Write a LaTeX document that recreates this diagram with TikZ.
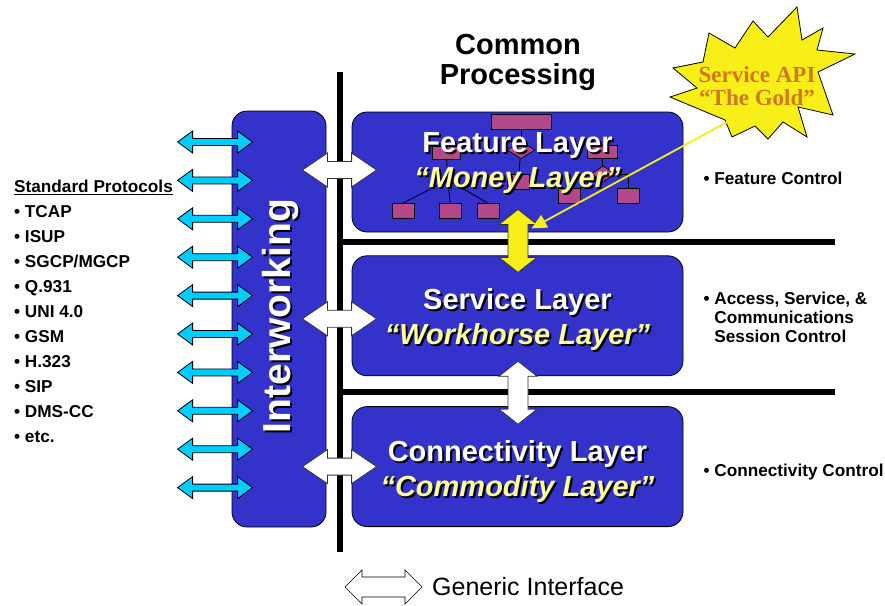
\documentclass[tikz,border=0pt]{standalone}
\usepackage{fontspec}
\setmainfont{Liberation Sans}
\newfontfamily\apifont{Liberation Serif}
\usepackage{xcolor}
\definecolor{layerblue}{RGB}{51,51,204}
\definecolor{moneyyellow}{RGB}{255,255,153}
\definecolor{treemagenta}{RGB}{178,72,138}
\definecolor{protocyan}{RGB}{0,204,255}
\definecolor{goldyellow}{RGB}{248,238,24}
\definecolor{apiorange}{RGB}{210,120,30}
\usepackage{tikz}
\usetikzlibrary{calc,positioning,arrows.meta,shapes.geometric}

% text with a black drop shadow
\newcommand{\shadowed}[2][2pt]{\leavevmode\rlap{\kern#1\raisebox{-2pt}{\color{black}#2}}#2}
% fat two-headed arrows: style, end, end, half shaft, half head, head length
\newcommand{\fatharrow}[6]{%
  \path[#1] let \p1=(#2), \p2=(#3) in
    (\x1,\y1) -- (\x1+#6,\y1+#5) -- (\x1+#6,\y1+#4) -- (\x2-#6,\y1+#4)
    -- (\x2-#6,\y1+#5) -- (\x2,\y1) -- (\x2-#6,\y1-#5) -- (\x2-#6,\y1-#4)
    -- (\x1+#6,\y1-#4) -- (\x1+#6,\y1-#5) -- cycle;}
\newcommand{\fatvarrow}[6]{%
  \path[#1] let \p1=(#2), \p2=(#3) in
    (\x1,\y1) -- (\x1+#5,\y1-#6) -- (\x1+#4,\y1-#6) -- (\x1+#4,\y2+#6)
    -- (\x1+#5,\y2+#6) -- (\x1,\y2) -- (\x1-#5,\y2+#6) -- (\x1-#4,\y2+#6)
    -- (\x1-#4,\y1-#6) -- (\x1-#5,\y1-#6) -- cycle;}

\begin{document}
\begin{tikzpicture}[x=1pt,y=-1pt,
    layerbox/.style={rectangle,rounded corners=15pt,draw=black,line width=0.8pt,
                     fill=layerblue,minimum width=331pt,minimum height=120pt},
    layertext/.style={text=white,align=center,inner sep=0pt,
                      font=\fontsize{29}{35}\selectfont\bfseries},
    treebox/.style={rectangle,draw=black,line width=0.7pt,fill=treemagenta,
                    minimum width=22pt,minimum height=15pt,inner sep=0pt},
    treedia/.style={diamond,draw=black,line width=0.7pt,fill=treemagenta,
                    minimum width=28pt,minimum height=17pt,inner sep=0pt},
    treeline/.style={draw=black,line width=0.8pt},
    spine/.style={draw=black,line width=5.5pt},
    whitearrow/.style={draw=black!80,line width=0.8pt,fill=white},
    protoarrow/.style={draw=black,line width=0.8pt,fill=protocyan},
    goldarrow/.style={draw=black!80,line width=0.8pt,fill=goldyellow},
    legendarrow/.style={draw=black,line width=0.6pt,fill=white},
    apiline/.style={draw=goldyellow,line width=1.8pt,-{Triangle[length=15pt,width=14pt]}},
    sidetext/.style={anchor=west,align=left,inner sep=0pt,
                     font=\fontsize{17.2}{19}\selectfont\bfseries},
  ]
  \useasboundingbox (0,0) rectangle (885,605);

  % backbone lines
  \draw[spine] (340,72) -- (340,552);
  \draw[spine] (340,242) -- (835,242);
  \draw[spine] (340,392) -- (835,392);

  % boxes
  \node[rectangle,rounded corners=15pt,draw=black,line width=0.8pt,fill=layerblue,
        minimum width=94pt,minimum height=416pt] (iw) at (279,319) {};
  \node[layerbox] (feat) at (517.5,172) {};
  \node[layerbox,below=23pt of feat] (serv) {};
  \node[layerbox,below=30pt of serv] (conn) {};

  % feature tree
  \node[treebox,minimum width=60pt] (fTop) at (521,122) {};
  \node[treedia] (fDia) at (521,150) {};
  \node[treebox] (fMid) at (518,182) {};
  \node[treebox,minimum width=28pt,minimum height=13pt] (fLeft) at (446,153) {};
  \node[treebox] (fB1) at (403,211) {};
  \node[treebox] (fB2) at (450,211) {};
  \node[treebox] (fB3) at (488,211) {};
  \node[treebox,minimum width=30pt,minimum height=13pt] (fRight) at (602,152) {};
  \node[treedia,minimum width=24pt,minimum height=16pt] (fRDia) at (603,174) {};
  \node[treebox] (fR1) at (569,196) {};
  \node[treebox] (fR2) at (628,196) {};
  \coordinate (fHub) at (448,180);
  \draw[treeline] (fTop) -- (fDia);
  \draw[treeline] (fDia) -- (fMid);
  \draw[treeline] (fLeft) -- (fHub);
  \draw[treeline] (fHub) -- (fB1.north);
  \draw[treeline] (fHub) -- (fB2.north);
  \draw[treeline] (fHub) -- (fB3.north);
  \draw[treeline] (fRight) -- (fRDia);
  \draw[treeline] (fRDia) -- (fR1.north east);
  \draw[treeline] (fRDia.east) -| (fR2.north);

  % layer titles
  \node[layertext] (featT) at ([yshift=8pt]feat.center)
       {\shadowed{Feature Layer}\\{\color{moneyyellow}\shadowed{\itshape “Money Layer”}}};
  \node[layertext] (servT) at ([yshift=-5pt]serv.center)
       {\shadowed{Service Layer}\\{\color{moneyyellow}\shadowed{\itshape “Workhorse Layer”}}};
  \node[layertext] (connT) at ([yshift=-6pt]conn.center)
       {\shadowed{Connectivity Layer}\\{\color{moneyyellow}\shadowed{\itshape “Commodity Layer”}}};
  \node[rotate=90,text=white,inner sep=0pt,font=\fontsize{39}{39}\selectfont\bfseries]
       (iwT) at ([xshift=2pt,yshift=3pt]iw.center) {\shadowed[-2pt]{Interworking}};

  % generic interfaces
  \fatharrow{whitearrow}{$(iw.east |- feat.west)+(-24,-2)$}{$(feat.west)+(25,-2)$}{8.5pt}{17pt}{25pt}
  \fatharrow{whitearrow}{$(iw.east |- serv.west)+(-24,3)$}{$(serv.west)+(25,3)$}{8.5pt}{17pt}{25pt}
  \fatharrow{whitearrow}{$(iw.east |- conn.west)+(-24,0)$}{$(conn.west)+(25,0)$}{8.5pt}{17pt}{25pt}
  \fatvarrow{goldarrow}{$(feat.south)+(0.5,-23)$}{$(serv.north)+(0.5,17)$}{10pt}{19pt}{15pt}
  \fatvarrow{whitearrow}{$(serv.south)+(0.5,-15)$}{$(conn.north)+(0.5,18)$}{10pt}{19pt}{15pt}

  % protocol arrows
  \foreach \i in {0,...,9}{
    \pgfmathsetmacro{\yy}{142+38.4*\i}
    \fatharrow{protoarrow}{$(iw.west |- 0,\yy)+(-54,0)$}{$(iw.west |- 0,\yy)+(21,0)$}{3.5pt}{11pt}{15pt}
  }

  % service API burst
  \draw[line width=0.8pt,fill=goldyellow] (709,33) -- (735,48) -- (753,21) -- (768,37)
    -- (797,7) -- (802,40) -- (823,28) -- (817,50) -- (855,54) -- (818,72)
    -- (833,115) -- (798,107) -- (807,137) -- (783,122) -- (768,139) -- (755,126)
    -- (732,137) -- (725,120) -- (670,97) -- (697,88) -- (673,68) -- (703,62) -- cycle;
  \node[align=center,inner sep=0pt,text=apiorange,
        font=\apifont\fontsize{23}{23}\selectfont\bfseries] (api) at (757,86)
       {Service API\\“The Gold”};
  \coordinate (apiTip) at ($(feat.south)+(14,-4)$);
  \draw[apiline] (api.south) -- (apiTip);

  % headings and side texts
  \node[align=center,inner sep=0pt,font=\fontsize{29}{30}\selectfont\bfseries]
       (common) at (518,62) {Common\\Processing};
  \node[anchor=north west,align=left,inner sep=0pt,
        font=\fontsize{17.2}{25}\selectfont\bfseries] (protos) at (14,180)
       {\underline{Standard Protocols}\\• TCAP\\• ISUP\\• SGCP/MGCP\\• Q.931\\• UNI 4.0\\%
        • GSM\\• H.323\\• SIP\\• DMS-CC\\• etc.};
  \node[sidetext] (featCtl) at ($(feat.east)+(20,6)$) {• Feature Control};
  \node[sidetext] (servCtl) at ($(serv.east)+(20,2)$)
       {• Access, Service, \&\\\phantom{• }Communications\\\phantom{• }Session Control};
  \node[sidetext] (connCtl) at ($(conn.east)+(20,5)$) {• Connectivity Control};

  % legend
  \node[anchor=west,inner sep=0pt,font=\fontsize{25}{25}\selectfont] (legend) at (432,587)
       {Generic Interface};
  \fatharrow{legendarrow}{$(legend.west)+(-87,0)$}{$(legend.west)+(-10,0)$}{10pt}{17pt}{17pt}
\end{tikzpicture}
\end{document}
